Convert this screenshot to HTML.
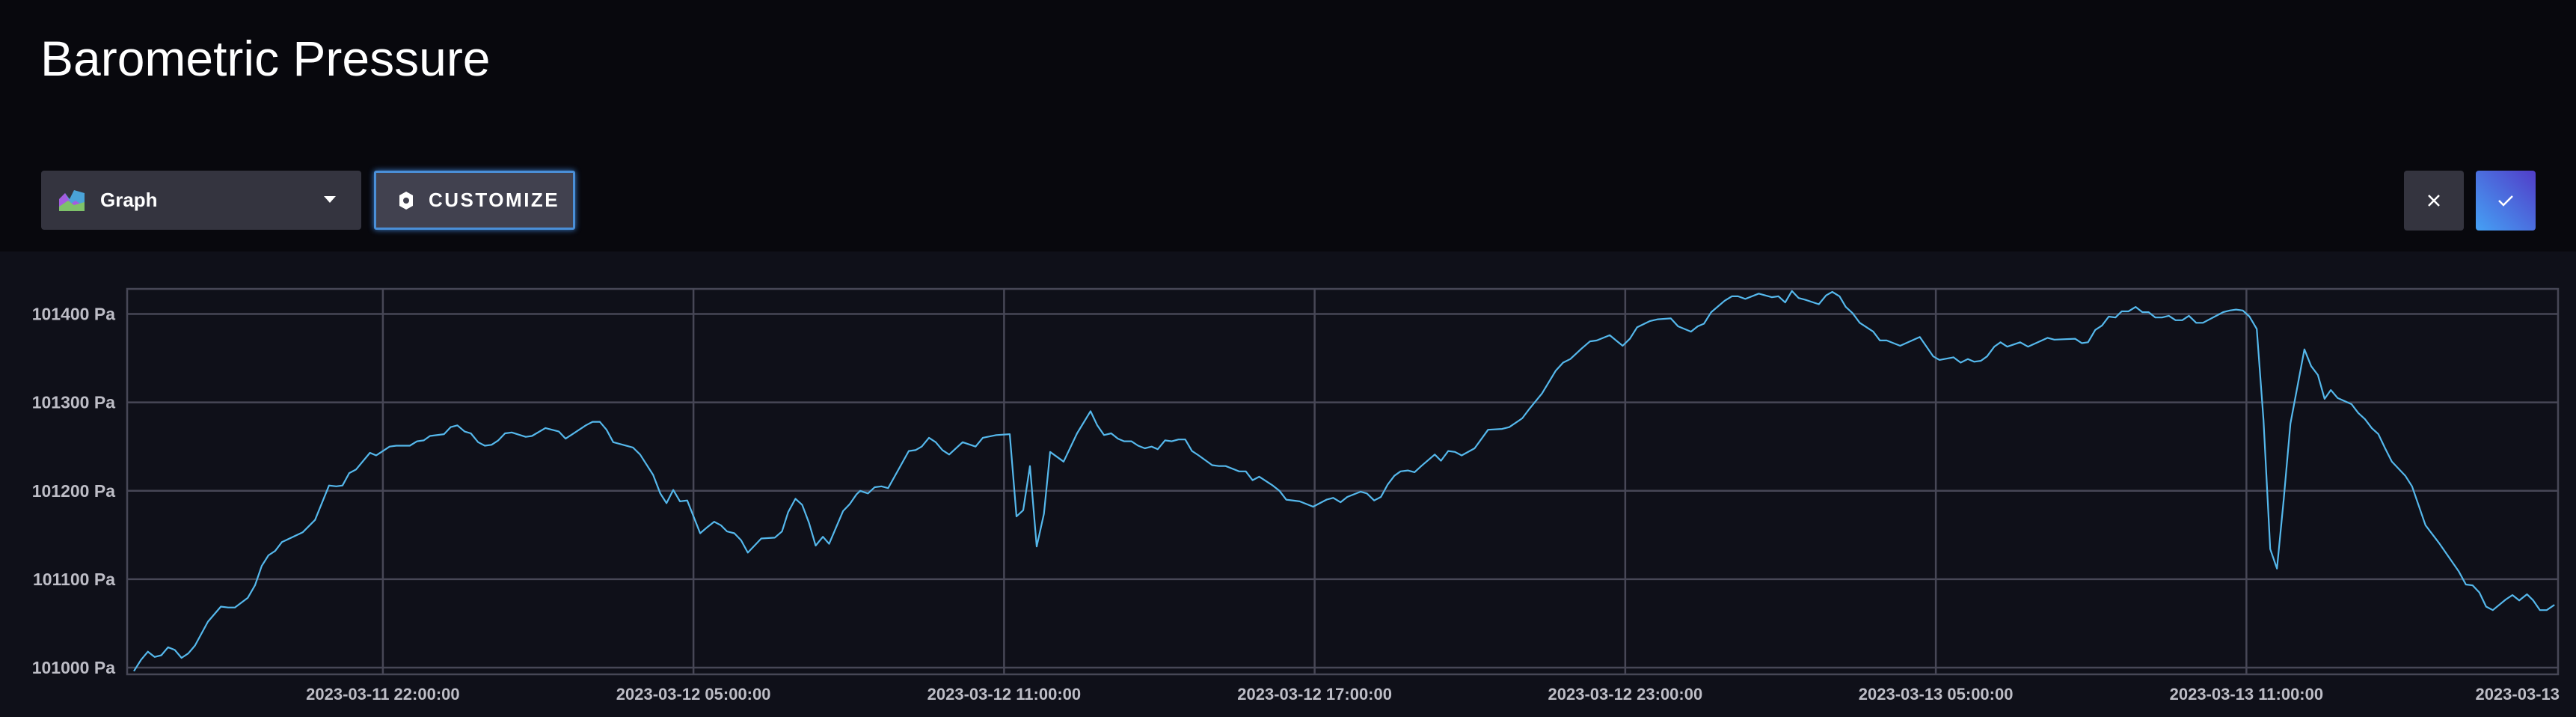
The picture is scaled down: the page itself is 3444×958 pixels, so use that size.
<!DOCTYPE html>
<html><head><meta charset="utf-8">
<style>
html,body{margin:0;padding:0;width:3444px;height:958px;overflow:hidden;background:#0f1019;font-family:"Liberation Sans",sans-serif;}
#header{position:absolute;left:0;top:0;width:3444px;height:336px;background:#08080d;}
#title{position:absolute;left:54px;top:40px;font-size:66px;color:#fff;white-space:nowrap;}
#graph-dd{position:absolute;left:55px;top:228px;width:428px;height:79px;background:#34343f;border-radius:4px;}
#graph-dd .lbl{position:absolute;left:79px;top:24px;font-size:26px;font-weight:bold;color:#fff;}
#graph-dd .caret{position:absolute;left:378px;top:34px;width:0;height:0;border-left:8px solid transparent;border-right:8px solid transparent;border-top:9px solid #fff;}
#customize{position:absolute;left:500px;top:228px;width:263px;height:73px;background:#41414f;border:3px solid #4a8fd8;border-radius:3px;box-shadow:0 0 8px #3c7fd0;}
#customize .lbl{position:absolute;left:70px;top:21px;font-size:26px;font-weight:bold;color:#fff;letter-spacing:2.5px;}
#cancel{position:absolute;left:3214px;top:228px;width:80px;height:80px;background:#34343f;border-radius:4px;}
#confirm{position:absolute;left:3310px;top:228px;width:80px;height:80px;border-radius:4px;background:linear-gradient(45deg,#45a1f5,#513dc8);}
svg text{font-family:"Liberation Sans",sans-serif;}
</style></head>
<body>
<div id="header">
  <div id="title">Barometric Pressure</div>
  <div id="graph-dd">
    <svg style="position:absolute;left:24px;top:24px" width="34" height="30" viewBox="0 0 34 30">
      <polygon points="0,30 0,18 8,6 14,14 20,2 34,6 34,30" fill="#4aa3d8"/>
      <polygon points="0,30 0,14 8,6 16,20 22,16 34,24 34,30" fill="#a35ce0"/>
      <polygon points="0,30 0,24 12,16 20,22 34,18 34,30" fill="#7ec26a"/>
    </svg>
    <span class="lbl">Graph</span>
    <div class="caret"></div>
  </div>
  <div id="customize">
    <svg style="position:absolute;left:28px;top:24px" width="24" height="26" viewBox="0 0 24 26">
      <polygon points="12,1 21,6 21,20 12,25 3,20 3,6" fill="#fff"/>
      <circle cx="12" cy="13" r="4" fill="#41414f"/>
    </svg>
    <span class="lbl">CUSTOMIZE</span>
  </div>
  <div id="cancel">
    <svg width="80" height="80" viewBox="0 0 80 80"><path d="M33 33 L47 47 M47 33 L33 47" stroke="#fff" stroke-width="2.5"/></svg>
  </div>
  <div id="confirm">
    <svg width="80" height="80" viewBox="0 0 80 80"><path d="M31 40 L37 46 L49 34" stroke="#fff" stroke-width="2.5" fill="none"/></svg>
  </div>
</div>
<svg id="chart" width="3444" height="958" style="position:absolute;left:0;top:0;pointer-events:none"></svg>
<script>
const hours = [0.13,0.27,0.40,0.53,0.66,0.79,0.92,1.05,1.18,1.31,1.56,1.81,1.95,2.08,2.33,2.47,2.60,2.73,2.86,2.99,3.39,3.63,3.90,4.04,4.16,4.29,4.42,4.69,4.81,5.07,5.20,5.46,5.60,5.73,5.85,6.12,6.25,6.38,6.52,6.64,6.78,6.91,7.04,7.17,7.30,7.43,7.70,7.82,8.08,8.34,8.47,8.86,8.99,9.13,9.26,9.39,9.77,9.91,10.16,10.30,10.42,10.55,10.68,10.82,11.07,11.21,11.34,11.47,11.59,11.73,11.86,11.99,12.25,12.51,12.65,12.77,12.91,13.04,13.17,13.30,13.44,13.56,13.83,13.96,14.09,
14.16,14.31,14.44,14.57,14.70,15.10,15.23,15.35,15.49,15.62,15.75,15.88,16.14,16.39,16.53,16.79,17.05,17.18,17.31,17.44,17.57,17.71,17.83,18.09,18.35,18.61,18.74,18.87,19.01,19.14,19.26,19.40,19.53,19.66,19.79,19.91,20.05,20.18,20.31,20.44,20.57,20.70,20.96,21.09,21.22,21.48,21.61,21.74,21.87,22.13,22.26,22.39,22.65,22.91,23.17,23.30,23.44,23.57,23.83,23.95,24.09,24.22,24.35,24.48,24.60,24.74,24.87,
25.00,25.26,25.38,25.52,25.65,25.78,26.03,26.29,26.56,26.70,26.95,27.08,27.33,27.60,27.74,27.88,28.10,28.26,28.39,28.64,28.89,29.03,29.17,29.42,29.57,29.82,29.96,30.21,30.34,30.46,30.60,30.86,31.00,31.12,31.26,31.52,31.77,31.90,32.03,32.16,32.29,32.42,32.68,32.82,32.94,33.08,33.20,33.33,33.47,33.60,33.73,33.86,33.99,34.25,34.63,34.89,35.01,35.28,35.42,35.56,35.68,35.81,
35.93,36.07,36.19,36.32,36.57,36.72,37.10,37.23,37.63,37.76,37.88,38.02,38.15,38.28,38.41,38.53,38.66,38.80,38.93,39.05,39.18,39.31,39.44,39.57,39.70,39.83,39.97,40.10,40.49,40.62,40.74,40.87,41.00,41.14,41.27,41.40,41.53,41.66,41.79,42.06,42.19,42.32,42.45,42.57,42.70,42.97,43.10,43.23,43.36,43.49,43.62,43.75,44.01,44.14,44.40,44.66,45.04,45.18,45.31,45.44,45.57,45.70,45.95,46.08,46.21,46.36,46.48,46.61,46.74,46.89];
const pressure = [100996,101009,101018,101012,101014,101023,101020,101011,101016,101025,101052,101069,101068,101068,101079,101093,101115,101127,101132,101142,101153,101167,101206,101205,101206,101220,101224,101243,101240,101250,101251,101251,101256,101257,101262,101264,101272,101274,101267,101265,101255,101251,101252,101257,101265,101266,101261,101262,101271,101267,101259,101274,101278,101278,101269,101255,101249,101241,101218,101197,101186,101201,101188,101189,101152,101159,101165,101161,101154,101152,101144,101130,101146,101147,101154,101176,101191,101184,101164,101138,101148,101140,101177,101185,101196,
101200,101197,101204,101205,101203,101245,101246,101250,101260,101255,101246,101241,101255,101250,101260,101263,101264,101171,101178,101228,101137,101174,101244,101233,101265,101290,101274,101263,101265,101259,101256,101256,101251,101248,101250,101247,101257,101256,101258,101258,101245,101240,101229,101228,101228,101222,101222,101212,101216,101206,101200,101190,101188,101182,101190,101192,101187,101193,101199,101197,101189,101193,101207,101217,101222,101223,101221,
101228,101241,101234,101245,101244,101240,101248,101269,101270,101272,101282,101292,101310,101336,101345,101349,101361,101369,101370,101376,101364,101372,101385,101392,101394,101395,101386,101380,101386,101389,101402,101415,101420,101420,101417,101423,101419,101420,101413,101426,101418,101416,101411,101421,101425,101420,101408,101401,101390,101385,101380,101370,101370,101364,101374,101352,101348,101351,101345,101349,101346,101347,
101352,101363,101368,101363,101368,101363,101373,101371,101372,101367,101368,101382,101387,101397,101396,101403,101403,101408,101402,101402,101396,101396,101398,101393,101393,101398,101390,101390,101402,101404,101405,101404,101397,101383,101280,101134,101112,101190,101276,101360,101341,101331,101304,101314,101305,101298,101288,101281,101271,101264,101248,101233,101217,101205,101161,101141,101109,101094,101093,101085,101069,101065,101077,101082,101076,101083,101076,101065,101065,101071];
const yTicks = [101000,101100,101200,101300,101400];
const yTickLabels = ["101000 Pa","101100 Pa","101200 Pa","101300 Pa","101400 Pa"];
const xTicks = [4.94,10.94,16.94,22.94,28.94,34.94,40.94];
const xTickLabels = ["2023-03-11 22:00:00","2023-03-12 05:00:00","2023-03-12 11:00:00","2023-03-12 17:00:00","2023-03-12 23:00:00","2023-03-13 05:00:00","2023-03-13 11:00:00"];
const endLabel = "2023-03-13";

const NS = "http://www.w3.org/2000/svg";
const svg = document.getElementById('chart');
const L=170,R=3420,T=386,B=901;
const hMin=0,hMax=46.96;
function xs(h){return L+(h-hMin)/(hMax-hMin)*(R-L);}
function ys(v){return 892-(v-101000)*(892-419.5)/400;}
function mk(tag,attrs){const e=document.createElementNS(NS,tag);for(const k in attrs)e.setAttribute(k,attrs[k]);svg.appendChild(e);return e;}
const GC="#474756";
yTicks.forEach((v,i)=>{
  const g=mk('line',{x1:L,x2:R,y1:ys(v),y2:ys(v),stroke:GC,'stroke-width':2.5});
  
  
  const t=mk('text',{x:154,y:ys(v)+8,'text-anchor':'end','font-size':23,'font-weight':'bold',fill:'#bdbdc6'});
  t.textContent=yTickLabels[i];
  
  
});
xTicks.forEach((h,i)=>{
  const g=mk('line',{x1:xs(h),x2:xs(h),y1:T,y2:B,stroke:GC,'stroke-width':2.5});
  
  
  const t=mk('text',{x:xs(h),y:935,'text-anchor':'middle','font-size':22,'font-weight':'bold',fill:'#bdbdc6'});
  t.textContent=xTickLabels[i];
  
  
});
const et=mk('text',{x:3422,y:935,'text-anchor':'end','font-size':22,'font-weight':'bold',fill:'#bdbdc6'});
et.textContent=endLabel;


const border=mk('rect',{x:L,y:T,width:R-L,height:B-T,fill:'none',stroke:GC,'stroke-width':2.5});


let d='';
hours.forEach((h,i)=>{d+=(i?'L':'M')+xs(h).toFixed(1)+' '+ys(pressure[i]).toFixed(1)+' ';});
const line=mk('path',{d:d,fill:'none',stroke:'#55b8ec','stroke-width':2.2,'stroke-linejoin':'round'});


</script>
</body></html>
